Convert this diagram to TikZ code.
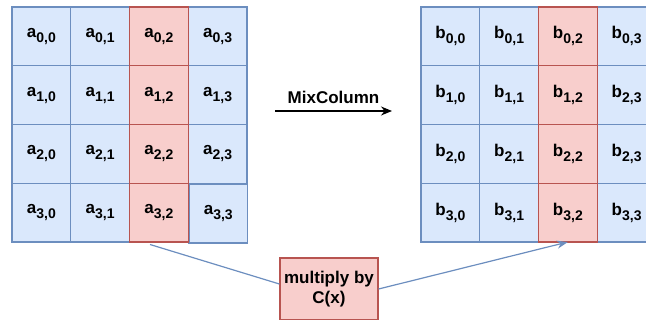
\documentclass[tikz,border=0pt]{standalone}
\usepackage{fontspec}
\setmainfont{Liberation Sans}
\usetikzlibrary{arrows.meta,calc}
\definecolor{bluefill}{HTML}{DAE8FC}
\definecolor{bluestroke}{HTML}{6C8EBF}
\definecolor{redfill}{HTML}{F8CECC}
\definecolor{redstroke}{HTML}{B85450}
\newcommand{\cellab}[3]{#1\raisebox{-5pt}{\fontsize{14}{14}\selectfont #2,#3}}
\tikzset{
  cellbox/.style={draw=bluestroke, fill=bluefill, line width=1.2pt,
    minimum width=58.75pt, minimum height=58.75pt, inner sep=0pt, outer sep=0pt,
    font=\fontsize{17}{17}\selectfont\bfseries},
  redcell/.style={cellbox, draw=redstroke, fill=redfill},
  opbox/.style={draw=redstroke, fill=redfill, line width=1.2pt,
    minimum width=98pt, minimum height=62pt, inner sep=0pt, align=center,
    font=\fontsize{17}{20}\selectfont\bfseries},
  link/.style={draw=bluestroke, line width=1.2pt},
  blacklink/.style={draw=black, line width=1.2pt, -{Stealth[length=11pt,width=9pt]}},
  bluearrow/.style={link, -{Stealth[length=11pt,width=8pt]}},
}
\begin{document}
\begin{tikzpicture}[x=1pt,y=-1pt]
\useasboundingbox (0,0) rectangle (646,320);
\clip (0,0) rectangle (646,320);
% left grid
\foreach \r in {0,...,3}{
  \foreach \c in {0,1,3}{
    \ifnum\r\c=33\relax
    \else
      \node[cellbox] (a\r\c) at ({12+58.75*\c+29.375},{7+58.75*\r+29.375}) {\cellab{a}{\r}{\c}};
    \fi
  }
}
\node[cellbox] (a33) at ({12+58.75*3+29.375+0.7},{7+58.75*3+29.375+1}) {\cellab{a}{3}{3}};
\foreach \r in {0,...,3}{
  \node[redcell] (a\r2) at ({12+58.75*2+29.375},{7+58.75*\r+29.375}) {\cellab{a}{\r}{2}};
}
% right grid
\foreach \r/\lr/\lc in {0/0/3,1/2/3,2/2/3,3/3/3}{
  \foreach \c in {0,1}{
    \node[cellbox] (b\r\c) at ({421+58.75*\c+29.375},{7+58.75*\r+29.375}) {\cellab{b}{\r}{\c}};
  }
  \node[cellbox] (b\r3) at ({421+58.75*3+29.375},{7+58.75*\r+29.375}) {\cellab{b}{\lr}{\lc}};
}
\foreach \r in {0,...,3}{
  \node[redcell] (b\r2) at ({421+58.75*2+29.375},{7+58.75*\r+29.375}) {\cellab{b}{\r}{2}};
}
% MixColumn arrow
\coordinate (mcA) at (275,111);
\coordinate (mcB) at (392,111);
\draw[blacklink] (mcA) -- (mcB) node[midway, above=7pt, font=\fontsize{17}{17}\selectfont\bfseries, inner sep=0pt] {MixColumn};
% multiply box
\node[opbox] (mb) at (329,289) {multiply by\\C(x)};
\coordinate (ls) at (150,244.5);
\draw[link] (ls) -- ($(mb.west)+(0,-5)$);
\draw[bluearrow] ($(mb.east)+(0,0)$) -- (b32.south);
\end{tikzpicture}
\end{document}
